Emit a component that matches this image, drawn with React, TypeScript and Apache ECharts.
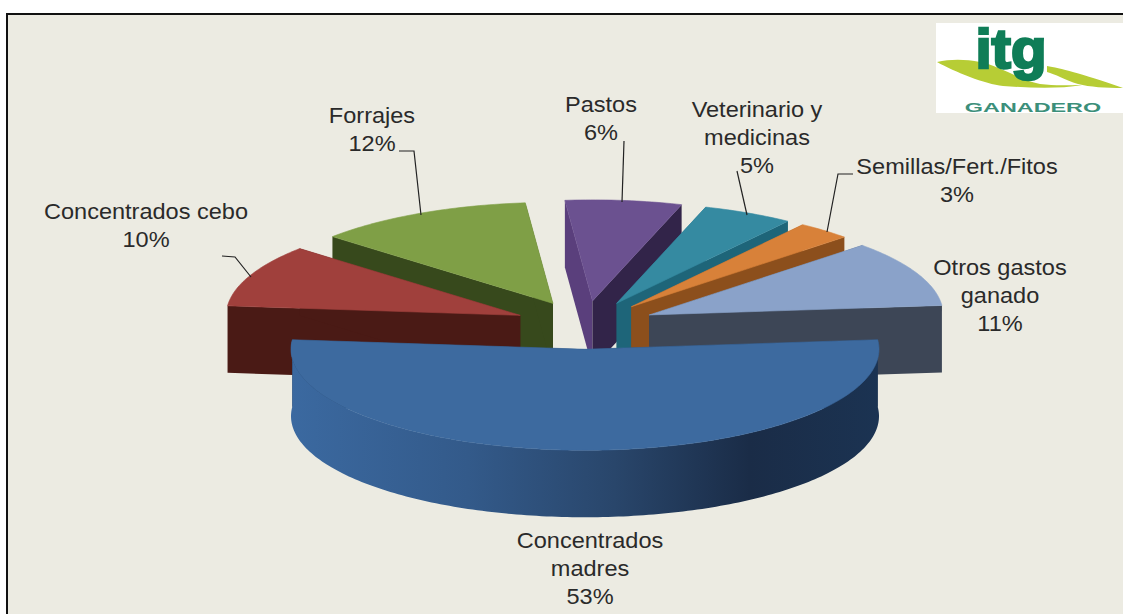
import React, { useEffect, useRef } from "react";
import * as echarts from "echarts";

// ---- data ----
const categories = ["Concentrados madres", "Concentrados cebo", "Forrajes", "Pastos", "Veterinario y medicinas", "Semillas/Fert./Fitos", "Otros gastos ganado"];
const shares = [53, 10, 12, 6.4, 5, 3, 10.6];
const labelLines = ["Concentrados\nmadres", "Concentrados cebo", "Forrajes", "Pastos", "Veterinario y\nmedicinas", "Semillas/Fert./Fitos", "Otros gastos\nganado"];
const drawOrder = [2, 1, 3, 4, 5, 6, 0];

// ---- styling ----
const topColors = ["#3d6a9f", "#a0403c", "#7f9f46", "#6b5190", "#358aa1", "#d88139", "#8aa2c9"];
const faceColors = ["#1c3350", "#4a1a15", "#37491c", "#5a3f7c", "#1e6579", "#8c4f1c", "#3d4656"];
const backFaceColors = ["#1c3350", "#4a1a15", "#37491c", "#322449", "#1e6579", "#8c4f1c", "#3d4656"];
const labelCenterX = [590, 146, 372, 601, 757, 957, 1000];
const labelTopY = [540, 211, 115, 104, 109, 166, 267];
const leaders: number[][][] = [
  [],
  [[222, 256], [235, 257], [251, 277]],
  [[399, 151], [414, 151], [421, 215]],
  [[624, 141], [622, 202]],
  [[737, 171], [747, 215]],
  [[853, 174], [838, 174], [827, 232]],
  [],
];

const CX = 585, CY = 325, RX = 294, RY = 101, DEPTH = 67, EXPLODE = 0.24;
const FONT = '"Liberation Sans", Arial, sans-serif';
const LABEL_SIZE = 22;
const LABEL_STRETCH = 1.07;
const TEXT = "#2a2a2a";

echarts.graphic.registerShape("swooshA", echarts.graphic.extendPath(
  "M937 62 C950 59 965 59 980 62 C1000 66 1020 80 1040 84 C1055 86 1070 85 1082 85 C1060 89 1030 88 1003 86 C985 84 955 72 937 62 Z",
  {}
) as any);
echarts.graphic.registerShape("swooshB", echarts.graphic.extendPath(
  "M1047 66 C1060 68 1080 73 1123 88 C1105 88 1090 87 1078 84 C1065 80 1055 74 1047 72 Z",
  {}
) as any);

function App() {
  const ref = useRef<HTMLDivElement>(null);
  useEffect(() => {
    const chart = echarts.init(ref.current!, undefined, { renderer: "svg" });
    const total = shares.reduce((a, b) => a + b, 0);
    const startDeg = 180 - (shares[0] / total) * 180;
    let acc = startDeg;
    const spans = shares.map((v) => {
      const s = acc;
      acc += (v / total) * 360;
      return [s, acc];
    });

    const renderItem = (params: any, api: any) => {
      const i = api.value(0) as number;
      const share = api.value(1) as number;
      const a0 = spans[i][0];
      const a1 = a0 + (share / total) * 360;
      const mid = ((a0 + a1) / 2) * Math.PI / 180;
      const ax = CX + EXPLODE * RX * Math.sin(mid);
      const ay = CY - EXPLODE * RY * Math.cos(mid);
      const pt = (deg: number) => {
        const r = deg * Math.PI / 180;
        return [ax + RX * Math.sin(r), ay - RY * Math.cos(r)];
      };
      const arc: number[][] = [];
      const steps = Math.max(8, Math.round(a1 - a0));
      for (let k = 0; k <= steps; k++) arc.push(pt(a0 + ((a1 - a0) * k) / steps));
      const down = (p: number[]) => [p[0], p[1] + DEPTH];
      const children: any[] = [];
      const pA = arc[0], pB = arc[arc.length - 1];
      // radial cut faces
      children.push({
        type: "polygon",
        shape: { points: [[ax, ay], pA, down(pA), [ax, ay + DEPTH]] },
        style: { fill: faceColors[i] },
      });
      children.push({
        type: "polygon",
        shape: { points: [[ax, ay], pB, down(pB), [ax, ay + DEPTH]] },
        style: { fill: backFaceColors[i] },
      });
      // outer wall, only for the largest slice the front of the rim is in view
      if (a0 < 180 && a1 > 180) {
        const wall = [...arc, ...arc.slice().reverse().map(down)];
        children.push({
          type: "polygon",
          shape: { points: wall },
          style: {
            fill: new echarts.graphic.LinearGradient(0, 0, 1, 0, [
              { offset: 0, color: "#3b69a0" },
              { offset: 0.3, color: "#335a8a" },
              { offset: 0.55, color: "#29466b" },
              { offset: 0.78, color: "#1a2c47" },
              { offset: 1, color: "#1b3352" },
            ]),
          },
        });
      }
      // top surface
      children.push({
        type: "polygon",
        shape: { points: [[ax, ay], ...arc] },
        style: { fill: topColors[i], stroke: topColors[i], lineWidth: 0.6 },
      });
      // leader
      if (leaders[i].length) {
        children.push({
          type: "polyline",
          shape: { points: leaders[i] },
          style: { stroke: "#222222", lineWidth: 1.2, fill: "none" },
        });
      }
      // label
      children.push({
        type: "text",
        x: labelCenterX[i],
        y: labelTopY[i] - 14,
        scaleX: LABEL_STRETCH,
        style: {
          text: `${labelLines[i]}\n${Math.round(share)}%`,
          x: 0,
          y: 0,
          align: "center",
          verticalAlign: "top",
          fontFamily: FONT,
          fontSize: LABEL_SIZE,
          lineHeight: 28,
          fill: TEXT,
        },
      });
      return { type: "group", children };
    };

    chart.setOption({
      animation: false,
      backgroundColor: "#ffffff",
      graphic: [
        { type: "rect", z: -10, shape: { x: 7, y: 14, width: 1140, height: 620 }, style: { fill: "#ecebe2", stroke: "#111111", lineWidth: 2 } },
        { type: "rect", z: 10, shape: { x: 936, y: 23, width: 187, height: 90 }, style: { fill: "#ffffff" } },
        { type: "swooshA", z: 11, style: { fill: "#b7cd35" } },
        { type: "swooshB", z: 11, style: { fill: "#b7cd35" } },
        {
          type: "text", z: 12, x: 1011, y: 20, scaleX: 1.04,
          style: { text: "itg", x: 0, y: 0, align: "center", verticalAlign: "top", fontFamily: FONT, fontWeight: "bold", fontSize: 56, fill: "#0f7d57", stroke: "#0f7d57", lineWidth: 2.5 },
        },
        {
          type: "text", z: 12, x: 1033, y: 108, scaleX: 1.95,
          style: { text: "GANADERO", x: 0, y: 0, align: "center", verticalAlign: "middle", fontFamily: FONT, fontWeight: "bold", fontSize: 12, fill: "#3c8f7a" },
        },
      ],
      series: [
        {
          type: "custom",
          coordinateSystem: "none",
          renderItem,
          data: drawOrder.map((i) => [i, shares[i], categories[i]]),
          encode: { itemName: 2 },
          clip: false,
        },
      ],
    } as any);
    return () => chart.dispose();
  }, []);
  return <div ref={ref} style={{ position: "fixed", left: 0, top: 0, width: 1123, height: 614 }} />;
}

export default App;
